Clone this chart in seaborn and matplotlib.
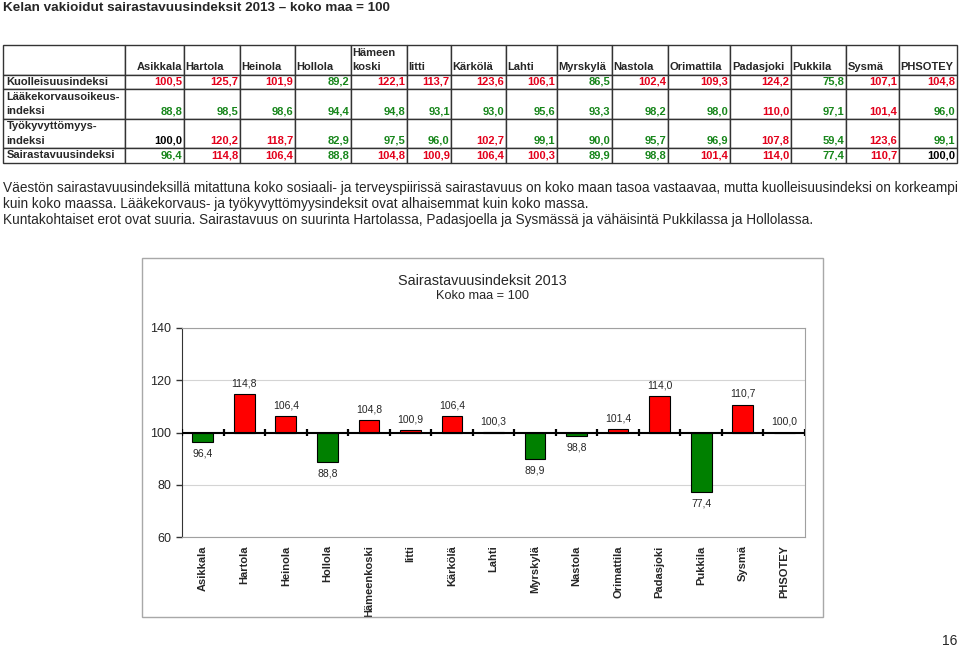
import numpy as np
import pandas as pd
import matplotlib
matplotlib.use("Agg")
import matplotlib.pyplot as plt
from matplotlib.patches import Rectangle
import seaborn as sns

# Data
kunnat = ["Asikkala", "Hartola", "Heinola", "Hollola", "Hämeenkoski", "Iitti", "Kärkölä", "Lahti",
          "Myrskylä", "Nastola", "Orimattila", "Padasjoki", "Pukkila", "Sysmä", "PHSOTEY"]
otsikot = ["Asikkala", "Hartola", "Heinola", "Hollola", "Hämeen\nkoski", "Iitti", "Kärkölä", "Lahti",
           "Myrskylä", "Nastola", "Orimattila", "Padasjoki", "Pukkila", "Sysmä", "PHSOTEY"]
rivinimet = ["Kuolleisuusindeksi", "Lääkekorvausoikeus-\nindeksi", "Työkyvyttömyys-\nindeksi", "Sairastavuusindeksi"]
kuolleisuus = [100.5, 125.7, 101.9, 89.2, 122.1, 113.7, 123.6, 106.1, 86.5, 102.4, 109.3, 124.2, 75.8, 107.1, 104.8]
laake = [88.8, 98.5, 98.6, 94.4, 94.8, 93.1, 93.0, 95.6, 93.3, 98.2, 98.0, 110.0, 97.1, 101.4, 96.0]
tyokyvyttomyys = [100.0, 120.2, 118.7, 82.9, 97.5, 96.0, 102.7, 99.1, 90.0, 95.7, 96.9, 107.8, 59.4, 123.6, 99.1]
sairastavuus = [96.4, 114.8, 106.4, 88.8, 104.8, 100.9, 106.4, 100.3, 89.9, 98.8, 101.4, 114.0, 77.4, 110.7, 100.0]

otsikko = "Kelan vakioidut sairastavuusindeksit 2013 \u2013 koko maa = 100"
kappale = ["Väestön sairastavuusindeksillä mitattuna koko sosiaali- ja terveyspiirissä sairastavuus on koko maan tasoa vastaavaa, mutta kuolleisuusindeksi on korkeampi",
           "kuin koko maassa. Lääkekorvaus- ja työkyvyttömyysindeksit ovat alhaisemmat kuin koko massa.",
           "Kuntakohtaiset erot ovat suuria. Sairastavuus on suurinta Hartolassa, Padasjoella ja Sysmässä ja vähäisintä Pukkilassa ja Hollolassa."]

PUNAINEN = "#e3001b"
VIHREA = "#17861b"

def fmt(v):
    return f"{v:.1f}".replace(".", ",")

sns.set_style("white")
plt.rcParams["font.family"] = ["Liberation Sans", "DejaVu Sans"]

fig = plt.figure(figsize=(9.6, 6.49), dpi=100)
W, H = 960, 649

fig.text(3 / W, 1 - 8 / H, otsikko, fontsize=9.7, fontweight="bold", va="center")

# Table
tax = fig.add_axes([3 / W, 1 - 163 / H, 954 / W, 118 / H])
tax.axis("off")
solut = [[""] + [h if "\n" in h else "\n" + h for h in otsikot]]
for nimi, arvot in zip(rivinimet, [kuolleisuus, laake, tyokyvyttomyys, sairastavuus]):
    pre = "\n" if "\n" in nimi else ""
    solut.append([nimi] + [pre + fmt(v) for v in arvot])
leveydet = [122, 59, 56, 55, 56, 56, 44, 55, 51, 55, 56, 62, 61, 55, 53, 58]
korkeudet = [30, 14, 30, 29, 15]
tbl = tax.table(cellText=solut, colWidths=leveydet, cellLoc="right", bbox=[0, 0, 1, 1])
tbl.auto_set_font_size(False)
tbl.set_fontsize(8)
arvorivit = [kuolleisuus, laake, tyokyvyttomyys, sairastavuus]
for (r, c), cell in tbl.get_celld().items():
    cell.set_height(korkeudet[r])
    cell.set_edgecolor("#333333")
    cell.set_linewidth(1.0)
    cell.PAD = 0.03
    t = cell.get_text()
    t.set_fontweight("bold")
    t.set_linespacing(1.55)
    if c == 0 or (r == 0 and c > 1):
        t.set_ha("left")
    if r > 0 and c > 0:
        v = arvorivit[r - 1][c - 1]
        t.set_color(PUNAINEN if v > 100 else (VIHREA if v < 100 else "black"))

for i, rivi in enumerate(kappale):
    fig.text(3 / W, 1 - (188 + 16 * i) / H, rivi, fontsize=9.8, va="center")

# Chart frame
fig.add_artist(Rectangle((142 / W, 1 - 617 / H), (823 - 142) / W, (617 - 258) / H,
                         transform=fig.transFigure, fill=False, edgecolor="#a8a8a8", lw=1))
fig.text(482 / W, 1 - 281 / H, "Sairastavuusindeksit 2013", fontsize=10.4, ha="center", va="center")
fig.text(482 / W, 1 - 296 / H, "Koko maa = 100", fontsize=9.2, ha="center", va="center")

ax = fig.add_axes([182 / W, 1 - 537 / H, 623 / W, 209 / H])
df = pd.DataFrame({"Kunta": kunnat, "Indeksi": sairastavuus})
df["Ero"] = df["Indeksi"] - 100
df["Suunta"] = np.where(df["Ero"] > 0, "yli", "alle")
sns.barplot(data=df, x="Kunta", y="Ero", hue="Suunta", order=kunnat,
            palette={"yli": "#ff0000", "alle": "#008000"}, saturation=1, dodge=False, legend=False,
            width=0.5, edgecolor="black", linewidth=0.8, bottom=100, ax=ax)
ax.set_ylim(60, 140)
ax.set_xlim(-0.5, len(kunnat) - 0.5)
ax.set_yticks([60, 80, 100, 120, 140])
ax.yaxis.grid(True, color="#d4d4d4", lw=0.8)
ax.set_axisbelow(True)
ax.axhline(100, color="black", lw=1.5, zorder=3)
rajat = np.arange(len(kunnat) + 1) - 0.5
ax.vlines(rajat, 98.8, 101.2, color="black", lw=1.6, zorder=3)
for s in ["top", "right", "bottom"]:
    ax.spines[s].set_color("#a0a0a0")
ax.spines["left"].set_color("#333333")
ax.set_xlabel("")
ax.set_ylabel("")
ax.set_xticks(range(len(kunnat)))
ax.set_xticklabels(kunnat, rotation=90, fontweight="bold", fontsize=8, va="top")
ax.tick_params(axis="x", length=0, pad=6)
ax.tick_params(axis="y", left=True, length=4, width=1, color="#333333", labelsize=9, pad=4)

for i, v in enumerate(sairastavuus):
    yli = v >= 100
    ax.annotate(fmt(v), (i, v), xytext=(0, 4 if yli else -5), textcoords="offset points",
                ha="center", va="bottom" if yli else "top", fontsize=7.5)

fig.text(950 / W, 1 - 641 / H, "16", fontsize=10, ha="center", va="center")

fig.savefig("out.png", dpi=100)
